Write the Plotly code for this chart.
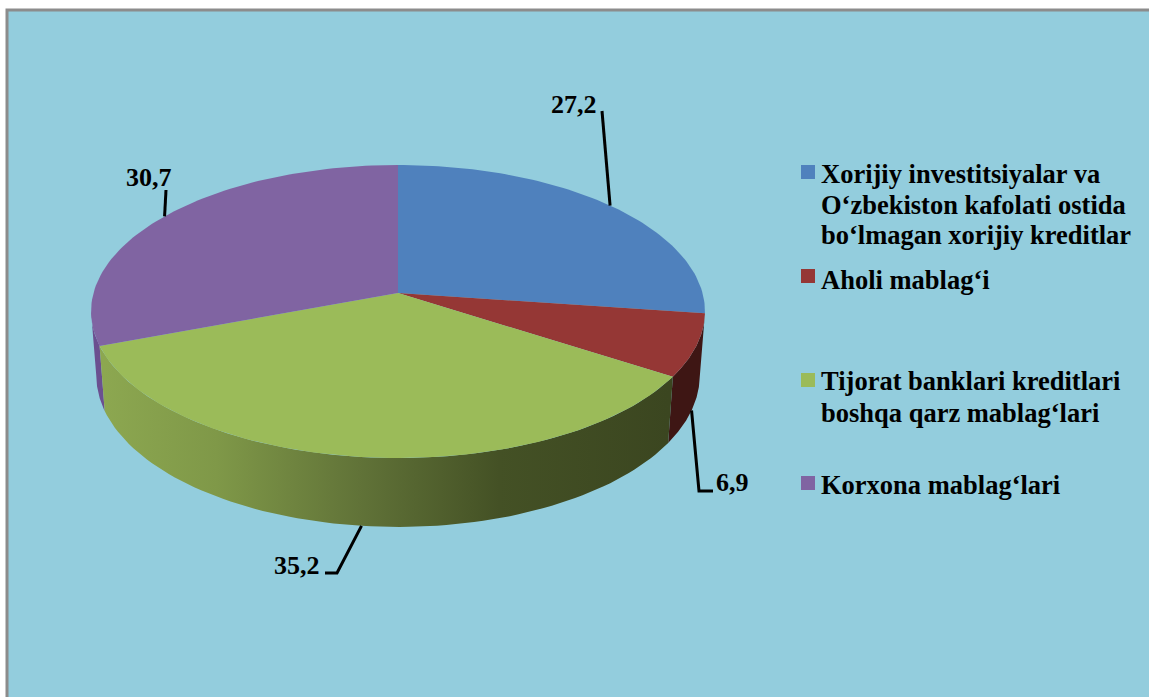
import math
import plotly.graph_objects as go

# ---- data ----
labels = ["27,2", "6,9", "35,2", "30,7"]
values = [27.2, 6.9, 35.2, 30.7]
legend_lines = [
    ["Xorijiy investitsiyalar va", "O‘zbekiston kafolati ostida", "bo‘lmagan xorijiy kreditlar"],
    ["Aholi mablag‘i"],
    ["Tijorat banklari kreditlari", "boshqa qarz mablag‘lari"],
    ["Korxona mablag‘lari"],
]
top_colors = ["#4F81BD", "#953735", "#9BBB59", "#8064A2"]

# ---- styling / geometry (pixel space) ----
BG = "#93CDDD"
FRAME = "#8C8C8C"
FONT = "Liberation Serif"
LEGEND_SIZE = 26.5
LABEL_SIZE = 26
CX, CY, RX, RY, PERSP = 398.0, 293.0, 304.5, 144.2, 0.1263
B_CY, B_SX, B_SY = 356.3, 0.983, 1.034
legend_y = [[174, 205, 235], [280], [381, 413], [485]]
legend_square_y = [172, 276, 380, 483]
label_pos = [(599, 104), (751, 482), (322, 565), (174, 177)]
leader_via = [[(602, 111)], [(699, 491), (713, 491)], [(337, 573), (325, 573)], [(166, 190)]]
green_side_stops = [[0, "#8CA750"], [0.2, "#7F9848"], [0.45, "#617338"], [0.7, "#445125"], [1, "#3B4620"]]


def rim(theta, bottom=False):
    u, v = math.sin(theta), math.cos(theta)
    d = 1 + PERSP * v
    if bottom:
        return CX + B_SX * RX * u / d, B_CY - B_SY * RY * v / d
    return CX + RX * u / d, CY - RY * v / d


def arc(t0, t1, bottom=False, n=80):
    pts = [rim(t0 + (t1 - t0) * i / n, bottom) for i in range(n + 1)]
    return [p[0] for p in pts], [p[1] for p in pts]


total = sum(values)
edges = [0.0]
for val in values:
    edges.append(edges[-1] + val / total * 2 * math.pi)

fig = go.Figure()


def poly(xs, ys, **kw):
    fig.add_trace(go.Scatter(x=xs, y=ys, mode="lines", fill="toself", line=dict(width=0),
                             hoverinfo="skip", showlegend=False, **kw))


def side(t0, t1, **kw):
    xa, ya = arc(t0, t1)
    xb, yb = arc(t1, t0, bottom=True)
    poly(xa + xb, ya + yb, **kw)


# side walls: visible as far as the silhouette angle of the projected ellipse
left_tangent = 2 * math.pi - math.acos(-PERSP)
side(edges[3], left_tangent, fillcolor="#6B5090")
side(edges[1], edges[2], fillcolor="#3E1614")
xa, _ = arc(edges[2], edges[3], bottom=True)
side(edges[2], edges[3], fillgradient=dict(type="horizontal", colorscale=green_side_stops,
                                           start=min(xa), stop=max(xa)))

# top faces
for i, col in enumerate(top_colors):
    xs, ys = arc(edges[i], edges[i + 1])
    poly([CX] + xs + [CX], [CY] + ys + [CY], fillcolor=col)

# leader lines and value labels
for i, lab in enumerate(labels):
    mid = (edges[i] + edges[i + 1]) / 2
    on_bottom = i in (1, 2)
    ex, ey = rim(mid, on_bottom)
    pts = [(ex, ey)] + leader_via[i]
    fig.add_trace(go.Scatter(x=[p[0] for p in pts], y=[p[1] for p in pts], mode="lines",
                             line=dict(color="black", width=3), hoverinfo="skip", showlegend=False))
    fig.add_annotation(x=label_pos[i][0], y=label_pos[i][1], text=f"<b>{lab}</b>", showarrow=False,
                       xanchor="right", yanchor="middle",
                       font=dict(family=FONT, size=LABEL_SIZE, color="black"))

# legend
fig.add_trace(go.Scatter(x=[808] * 4, y=legend_square_y, mode="markers",
                         marker=dict(symbol="square", size=14, color=top_colors, line=dict(width=0)),
                         hoverinfo="skip", showlegend=False))
for lines, ys in zip(legend_lines, legend_y):
    for line, y in zip(lines, ys):
        fig.add_annotation(x=819, y=y, text=f"<b>{line}</b>", showarrow=False, xanchor="left", yanchor="middle",
                           font=dict(family=FONT, size=LEGEND_SIZE, color="black"))

fig.update_layout(
    width=1149, height=697, autosize=False,
    margin=dict(l=0, r=0, t=0, b=0),
    paper_bgcolor="white", plot_bgcolor="white",
    xaxis=dict(range=[0, 1149], visible=False, fixedrange=True),
    yaxis=dict(range=[697, 0], visible=False, fixedrange=True),
    shapes=[dict(type="rect", xref="x", yref="y", x0=7, y0=10, x1=1170, y1=720,
                 line=dict(color=FRAME, width=3), fillcolor=BG, layer="below")],
)
fig.write_html("out.html", config={"displayModeBar": False},
               post_script="document.body.style.margin='0';document.documentElement.style.overflow='hidden';")
